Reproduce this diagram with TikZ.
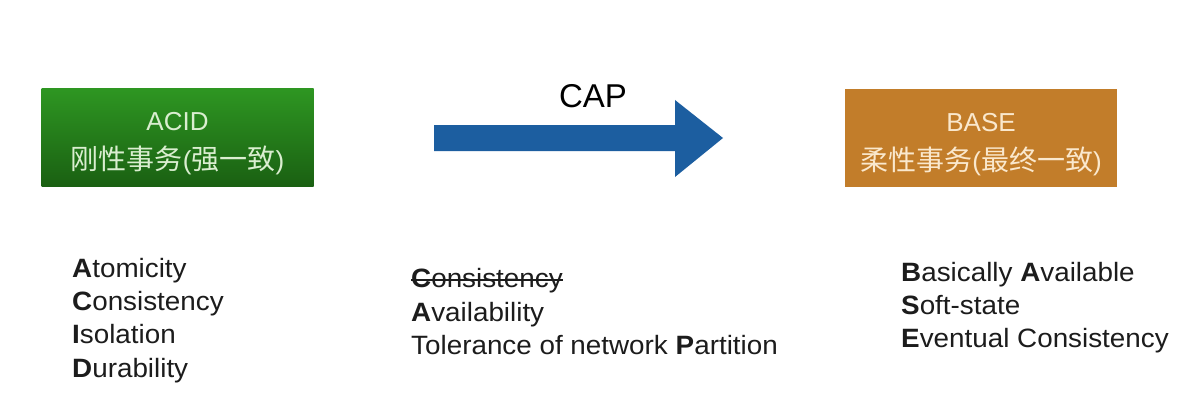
\documentclass[tikz,border=0pt]{standalone}
\usepackage{fontspec}
\setmainfont{Liberation Sans}
\newfontfamily\listfont[FakeStretch=1.05]{Liberation Sans}
\newfontfamily\cjk{Noto Sans CJK SC}
\usetikzlibrary{calc}
\definecolor{boxgreenT}{RGB}{46,150,34}
\definecolor{boxgreenB}{RGB}{26,96,18}
\definecolor{boxorange}{RGB}{194,125,42}
\definecolor{arrowblue}{RGB}{28,94,160}
\definecolor{txtgreen}{RGB}{218,238,208}
\definecolor{txtorange}{RGB}{250,232,205}
\definecolor{txtdark}{RGB}{28,28,28}
\tikzset{
  boxshape/.style={draw=none, minimum width=272pt, minimum height=98pt, inner sep=0pt},
  boxtext/.style={align=center, inner sep=0pt, font=\fontsize{26}{39}\selectfont},
  listline/.style={anchor=base west, inner sep=0pt, text=txtdark, font=\listfont\fontsize{26.5}{32}\selectfont},
}
\newcommand{\zh}[1]{{\cjk\fontsize{28}{39}\selectfont #1}}
\begin{document}
\begin{tikzpicture}[x=1pt,y=-1pt]
\useasboundingbox (0,0) rectangle (1190,401);
\fill[white] (0,0) rectangle (1190,401);

% ACID box
\node[boxshape, top color=boxgreenT, bottom color=boxgreenB] (acid) at (177.5,137.5) {};
\node[boxtext, text=txtgreen] (acidtxt) at (177.5,144) {ACID\\\zh{刚性事务}(\zh{强一致})};

% BASE box
\node[boxshape, fill=boxorange] (base) at (981,138) {};
\node[boxtext, text=txtorange] (basetxt) at (981,145) {BASE\\\zh{柔性事务}(\zh{最终一致})};

% CAP arrow
\coordinate (arrS) at (434,138);
\coordinate (arrT) at (723,138);
\fill[arrowblue] ($(arrS)+(0,-13)$) -- (675,125) -- (675,100) -- (arrT) -- (675,177) -- (675,151) -- ($(arrS)+(0,13)$) -- cycle;
\node[anchor=base, inner sep=0pt, text=black, font=\fontsize{33}{36}\selectfont] (cap) at (593,108) {CAP};

% ACID list
\node[listline] (a1) at (72,277) {\textbf{A}tomicity};
\node[listline] (a2) at (72,310) {\textbf{C}onsistency};
\node[listline] (a3) at (72,343) {\textbf{I}solation};
\node[listline] (a4) at (72,377) {\textbf{D}urability};

% CAP list
\node[listline] (c1) at (411,287) {\textbf{C}onsistency};
\node[listline] (c2) at (411,321) {\textbf{A}vailability};
\node[listline] (c3) at (411,354) {Tolerance of network \textbf{P}artition};
\draw[line width=1.2pt, txtdark] ($(c1.base west)+(0,7pt)$) -- ($(c1.base east)+(0,7pt)$);

% BASE list
\node[listline] (b1) at (901,281) {\textbf{B}asically \textbf{A}vailable};
\node[listline] (b2) at (901,314) {\textbf{S}oft-state};
\node[listline] (b3) at (901,347) {\textbf{E}ventual Consistency};
\end{tikzpicture}
\end{document}
